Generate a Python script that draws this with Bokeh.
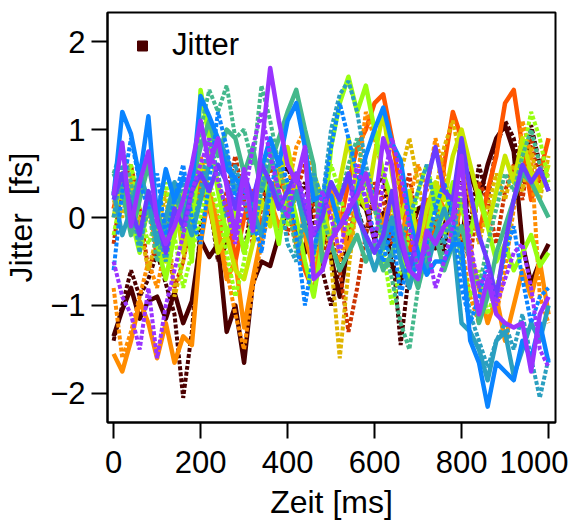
import math
from bokeh.plotting import figure
from bokeh.models import Range1d, FixedTicker, Legend, LegendItem
from bokeh.embed import file_html
from bokeh.resources import INLINE

# time grid (ms)
X = list(range(0, 1001, 20))

maroon_solid = [-1.35, -1.05, -0.8, -1.15, -0.95, -0.9, -1.15, -0.85, -1.2, -0.95,
                -0.25, -0.45, -0.3, -1.3, -1.0, -1.65, -0.75, -0.5, -0.55, -0.2,
                0.1, -0.15, -0.4, 0.3, -0.05, -0.45, -0.9, -0.3, 0.2, 0.1,
                -0.25, 0.05, -0.55, -0.75, -0.2, 0.1, 0.15, -0.35, -0.1, 0.2,
                -0.3, 0.5, 0.2, 0.6, 0.9, 1.05, 0.75, -0.3, -0.75, -0.5,
                -0.3]
maroon_dot = [-1.4, -1.0, -0.6, -0.9, -0.7, -0.4, -0.75, -1.1, -2.05, -1.3,
              -0.1, 0.2, -0.5, -0.3, 0.1, -0.4, 0.2, 0.5, 0.0, 0.3,
              0.6, 0.2, 0.4, -0.1, -0.6, -1.0, -0.55, -0.3, 0.1, -0.2,
              0.3, 0.5, -0.3, -1.45, -0.6, -0.2, -0.5, 0.0, -0.4, 0.3,
              0.4, -0.1, 0.6, 0.2, 0.8, 1.1, 0.9, 0.4, 1.05, 0.6,
              0.3]
red_dot = [-0.3, 0.4, 0.6, 0.1, -0.6, -0.3, -0.2, -0.8, -0.5, 0.0,
           0.5, 0.2, -0.2, 0.3, 0.7, 0.2, -0.3, 0.1, 0.6, 0.3,
           -0.2, 0.3, 0.6, 0.1, -0.4, -0.2, -0.6, -1.3, -0.8, -0.2,
           0.4, 0.2, -0.3, 0.1, 0.5, -0.2, -0.6, 0.0, 0.3, 0.1,
           -0.2, -0.5, 0.4, 0.2, -0.3, 0.3, 0.6, 0.2, 0.9, 0.4,
           0.5]
orangered_solid = [0.1, 0.5, 0.3, -0.2, 0.2, -0.4, 0.0, 0.3, -0.3, -0.1,
                   0.4, 0.1, -0.3, 0.2, -0.5, 0.0, 0.3, -0.1, 0.2, 0.5,
                   0.2, -0.3, -0.6, -0.85, -0.3, 0.2, -0.1, 0.4, 0.8, 1.0,
                   1.3, 1.4, 0.9, 0.3, -0.4, -0.1, 0.2, -0.3, 0.6, 1.2,
                   0.9, 0.2, -0.2, 0.3, 0.7, 1.3, 1.45, 0.8, 0.2, 0.5,
                   0.9]
orange_solid = [-1.55, -1.75, -1.4, -0.95, -1.2, -1.6, -1.2, -1.65, -1.35, -1.45,
                -0.3, 0.3, -0.1, -0.7, -0.5, -1.25, -0.7, -0.2, 0.2, -0.1,
                0.1, 0.4, -0.2, -0.6, -0.2, 0.3, 0.0, -0.4, 0.2, 0.5,
                0.2, -0.1, 0.3, -0.2, 0.1, -0.5, -0.1, 0.3, 0.1, -0.3,
                0.2, -0.4, -0.8, -1.2, -0.9, -1.4, -1.0, -0.6, -0.9, -0.5,
                -1.1]
orange_dot = [-0.8, -1.6, -1.3, -0.9, -0.5, -0.8, -0.3, 0.2, -0.1, 0.4,
              0.7, 0.3, 0.0, -0.6, -1.1, -1.5, -0.8, -0.3, 0.1, 0.6,
              0.3, 0.8, 1.0, 0.4, -0.1, 0.2, -0.5, -0.1, 0.4, 1.2,
              0.9, 0.5, 0.0, -0.4, 0.2, 0.6, 0.3, 0.9, 0.5, 0.1,
              -0.3, -0.9, -1.2, -0.7, -1.1, -0.6, 0.1, 1.1, 0.7, -0.9,
              -1.2]
gold_dot = [0.2, 0.0, 0.5, -0.1, -0.6, -0.2, 0.3, -0.9, -0.5, 0.0,
            0.3, 0.8, 0.4, -0.2, 0.0, 0.4, 0.1, -0.2, 0.3, 0.6,
            0.2, -0.3, 0.0, 0.5, 0.1, -0.5, -1.6, -0.6, 0.2, 0.4,
            0.1, -0.3, 0.2, 0.5, 0.9, 0.4, -0.1, 0.3, 0.8, 1.1,
            0.6, 0.2, -0.3, 0.1, 0.5, 0.2, 0.6, 0.3, 0.8, 0.2,
            0.7]
yellow_solid = [0.0, 0.5, 0.3, -0.3, 0.1, -0.2, -0.5, 0.2, -0.4, 0.1,
                0.6, 0.2, -0.4, -0.2, -0.6, -0.7, -0.3, 0.2, -0.1, 0.4,
                0.8, 0.3, 0.0, 0.5, 0.2, -0.3, 0.4, 0.9, 0.3, 0.1,
                0.7, 1.2, 0.5, 0.0, 0.3, -0.3, 0.1, 0.4, 0.2, 0.7,
                1.0, 0.6, 0.2, -0.1, 0.3, 0.7, 0.4, 0.9, 0.5, 0.3,
                0.6]
lime_solid = [0.3, 0.5, 0.0, -0.4, 0.2, -0.3, -0.7, -0.2, 0.3, -0.5,
              1.45, 0.9, 0.3, -0.2, 0.1, -0.4, 0.0, 0.5, 0.2, -0.3,
              0.4, 0.0, -0.5, -0.9, -0.3, 0.8, 1.3, 1.6, 1.2, 1.5,
              1.0, 0.5, 0.2, -0.3, -0.7, -0.4, -0.2, 0.3, 0.0, 0.4,
              0.1, -0.2, 0.3, -0.1, -0.5, -0.3, -0.6, -0.4, -0.2, -0.55,
              -0.4]
lime_dot = [-0.2, 0.3, 0.6, 0.1, -0.3, 0.0, 0.4, -0.2, -0.8, -0.4,
            0.0, 0.4, 0.1, -0.4, -0.9, -0.5, 0.1, 0.5, 0.8, 0.3,
            -0.1, 0.3, 0.0, -0.5, 0.2, 0.6, 0.3, -0.2, 0.1, 0.5,
            0.2, -0.4, -1.0, -0.6, -0.2, 0.3, 0.6, 0.2, -0.2, 0.1,
            -0.5, -0.9, -0.6, -1.1, -0.8, -0.4, 0.2, 0.7, 1.2, 0.9,
            0.4]
green_solid = [0.5, 0.3, -0.2, 0.2, 0.6, 0.1, -0.3, 0.3, 0.0, 0.4,
               0.8, 1.1, 0.7, 1.0, 0.9, 0.5, 0.8, 0.3, 0.6, 0.9,
               1.2, 1.45, 1.0, 0.6, -0.5, -0.3, -0.6, -0.4, -0.2, -0.5,
               -0.3, -0.6, -0.4, -0.1, -0.5, -0.8, -0.4, -0.2, -0.6, -0.3,
               -0.1, -0.5, -1.2, -0.9, -0.4, -0.1, 0.2, 0.5, 0.4, 0.2,
               0.0]
green_dot = [0.5, 0.8, 0.4, -0.3, 0.1, -0.5, 0.0, 0.4, -0.2, 0.2,
             1.0, 1.45, 1.2, 1.5, 0.9, 1.0, 0.6, 1.5, 1.1, 0.6,
             0.2, -0.4, -0.1, 0.3, 0.0, -0.3, 0.2, 0.6, 0.9, 0.4,
             0.1, -0.3, -0.7, -1.2, -1.5, -0.8, -0.3, 0.0, -0.5, -0.2,
             0.3, -0.4, -0.8, -0.3, 0.1, 0.5, 0.3, 0.7, 1.0, 0.6,
             0.3]
teal_dot = [0.0, 0.6, 0.2, -0.4, 0.3, -0.1, -0.5, 0.1, 0.4, -0.2,
            0.3, 0.9, 0.5, 0.0, 0.6, 0.2, -0.2, 0.3, 0.8, 0.3,
            -0.3, -0.5, 0.1, 0.5, 0.2, 1.0, 1.4, 1.55, 1.2, 0.6,
            0.2, -0.2, -0.5, -0.3, 0.0, 0.3, 0.6, 0.1, -0.3, 0.2,
            -0.5, -1.1, -1.4, -1.7, -1.4, -1.2, -1.5, -1.1, -1.6, -2.05,
            -1.6]
teal_solid = [0.3, -0.2, 0.1, 0.5, 0.2, -0.3, 0.0, 0.4, 0.1, -0.2,
              0.2, 0.6, 0.9, 0.7, 0.3, 0.5, 0.1, -0.2, 0.4, 0.2,
              0.0, 0.3, -0.1, -0.4, 0.1, 0.4, 0.2, 0.5, 0.1, -0.3,
              -0.6, -0.3, 0.0, -0.5, -0.8, -0.4, -0.6, -0.2, 0.1, -0.2,
              -1.2, -1.3, -1.5, -1.85, -1.4, -1.3, -1.8, -1.5, -1.2, -1.4,
              -1.0]
blue_dot = [-0.6, 0.3, 0.9, 0.4, 0.1, 0.5, -0.2, 0.2, 0.6, 0.0,
            -0.3, 0.4, 1.2, 0.8, 0.2, 0.5, 0.0, -0.4, 0.3, 0.7,
            0.4, -0.2, -1.0, -0.4, 0.2, 0.8, 1.3, 0.9, 0.5, 0.2,
            -0.2, -0.5, -0.1, -0.9, -0.4, -0.7, -0.3, 0.1, 0.4, 0.0,
            -0.8, -1.2, -0.9, -0.5, -0.9, -0.4, -0.1, -0.7, -1.2, -0.9,
            -0.8]
blue_solid = [0.25, 1.2, 0.95, 0.45, 1.15, 0.0, 0.55, 0.2, 0.45, 0.35,
              1.38, 1.15, 0.9, 0.55, 0.45, 0.3, 0.2, 0.55, 0.9, 0.6,
              1.1, 1.3, 0.8, 0.2, 0.25, 0.25, -0.1, 0.05, 0.3, 0.7,
              1.0, 1.25, 0.85, 0.65, 0.0, -0.4, -0.65, -0.5, -0.5, -0.3,
              -0.3, -1.4, -1.65, -2.15, -1.65, -1.75, -1.85, -1.4, -1.6, -1.2,
              -1.65]
violet_solid = [0.2, 0.5, 0.1, -0.2, 0.3, 0.0, -0.4, 0.1, -0.1, 0.3,
                0.5, 0.3, 0.6, 0.4, 0.1, 0.5, 0.2, 0.6, 0.4, 0.1,
                0.3, 0.5, 0.1, -0.2, 0.0, 0.4, 0.2, 0.5, 0.0, -0.2,
                -0.4, -0.2, 0.3, -0.3, -0.6, -0.2, 0.4, 0.8, 0.3, 0.2,
                0.9, 0.3, -0.2, -0.5, -0.9, -0.3, 0.2, 0.6, 0.4, 0.55,
                0.3]
purple_dot = [-0.5, -0.9, -1.1, -1.5, -0.8, -1.6, -1.0, -0.6, -0.2, 0.3,
              0.6, 0.9, 0.4, 0.1, -0.3, 0.2, 0.8, 1.2, 0.7, 0.3,
              0.0, 0.5, 0.2, -0.2, 0.3, 0.0, -0.4, 0.1, 0.6, 0.2,
              -0.3, 0.4, 0.9, 0.5, -0.1, -0.6, -0.3, -0.8, -0.5, -0.1,
              0.4, -0.3, -0.8, -0.6, -1.0, -0.7, -0.4, -0.3, -0.8, -1.5,
              -1.7]
purple_solid = [0.25, 0.85, -0.1, 0.4, 0.75, -0.05, -0.3, -0.1, 0.2, 0.6,
                1.1, 0.6, 0.9, 0.35, -0.2, 0.55, -0.15, 0.8, 1.7, 1.1,
                0.6, 0.4, 0.8, -0.7, -0.6, -0.25, -0.1, 0.1, 0.25, 0.5,
                0.1, 0.9, 0.6, -0.2, -0.6, -0.7, -0.15, -0.3, -0.1, 0.0,
                0.7, -0.6, -1.1, -0.7, -1.1, -1.2, -1.25, -1.2, -1.75, -1.1,
                -0.9]

series = [
    (maroon_solid, "#4b0000", "solid"),
    (maroon_dot, "#4b0000", "dotted"),
    (red_dot, "#cc3300", "dotted"),
    (orangered_solid, "#ff5500", "solid"),
    (orange_solid, "#ff8c00", "solid"),
    (orange_dot, "#ff8c00", "dotted"),
    (gold_dot, "#e0b400", "dotted"),
    (yellow_solid, "#c8e600", "solid"),
    (lime_solid, "#99ff11", "solid"),
    (lime_dot, "#99ff11", "dotted"),
    (green_solid, "#44b88c", "solid"),
    (green_dot, "#44b88c", "dotted"),
    (teal_dot, "#2a9fc0", "dotted"),
    (teal_solid, "#2a9fc0", "solid"),
    (blue_dot, "#0a84ff", "dotted"),
    (blue_solid, "#0a84ff", "solid"),
    (violet_solid, "#6a3cff", "solid"),
    (purple_dot, "#9933ff", "dotted"),
    (purple_solid, "#9933ff", "solid"),
]

FONT = "Liberation Sans"

p = figure(width=568, height=525, output_backend="svg", toolbar_location=None,
           x_range=Range1d(-14, 1016), y_range=Range1d(-2.33, 2.33),
           min_border_left=105, min_border_right=13, min_border_top=12,
           min_border_bottom=103)
p.grid.visible = False
p.outline_line_color = "black"
p.outline_line_width = 2
p.background_fill_color = "white"
p.border_fill_color = "white"

for vals, col, style in series:
    if style == "solid":
        p.line(X[:len(vals)], vals, line_color=col, line_width=4.5, line_join="round")
    else:
        p.line(X[:len(vals)], vals, line_color=col, line_width=4, line_dash="4 2")

# legend-only marker (NaN point is not drawn in the plot area)
leg_r = p.scatter(x=[math.nan], y=[math.nan], marker="square", size=10,
                  fill_color="#4b0000", line_color="#4b0000")

for ax in (p.xaxis[0], p.yaxis[0]):
    ax.axis_line_width = 2
    ax.axis_line_color = "black"
    ax.major_tick_line_width = 2
    ax.major_tick_in = 0
    ax.major_tick_out = 16
    ax.minor_tick_line_color = None
    ax.major_label_text_font = FONT
    ax.major_label_text_font_size = "31px"
    ax.major_label_text_color = "black"
    ax.axis_label_text_font = FONT
    ax.axis_label_text_font_size = "32px"
    ax.axis_label_text_font_style = "normal"
    ax.axis_label_text_color = "black"

p.xaxis[0].ticker = FixedTicker(ticks=[0, 200, 400, 600, 800, 1000])
p.yaxis[0].ticker = FixedTicker(ticks=[-2, -1, 0, 1, 2])
p.xaxis[0].axis_label = "Zeit [ms]"
p.yaxis[0].axis_label = "Jitter\u00a0 [fs]"
p.xaxis[0].major_label_standoff = 12
p.yaxis[0].major_label_standoff = 6
p.xaxis[0].axis_label_standoff = 8
p.yaxis[0].axis_label_standoff = 8

legend = Legend(items=[LegendItem(label="Jitter", renderers=[leg_r])],
                location="top_left", border_line_color=None,
                background_fill_alpha=0, label_text_font=FONT,
                label_text_color="black",
                label_text_font_size="31px", glyph_width=40, glyph_height=25,
                label_height=30, label_standoff=10, margin=15, padding=0,
                spacing=0)
p.add_layout(legend)

open("out.html", "w").write(file_html(p, INLINE))
